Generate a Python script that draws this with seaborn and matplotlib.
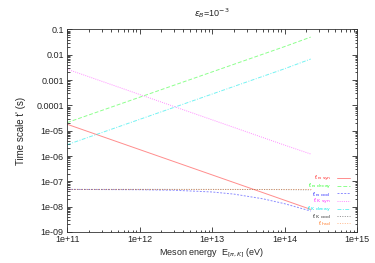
import numpy as np
import pandas as pd
import seaborn as sns
import matplotlib.pyplot as plt
from matplotlib.ticker import LogLocator, NullFormatter, FixedLocator, FixedFormatter

# meson energy grid (eV)
energy = [1e11, 1e12, 3e12, 1e13, 2e13, 5e13, 1e14, 2.3e14]

# time scales (s)
t_pi_syn = [1.8e-5, 1.8e-6, 6.0e-7, 1.8e-7, 9.0e-8, 3.6e-8, 1.8e-8, 7.8e-9]
t_pi_decay = [2.1e-5, 2.1e-4, 6.3e-4, 2.1e-3, 4.2e-3, 1.05e-2, 2.1e-2, 5.0e-2]
t_pi_cool = [4.8e-8, 4.67e-8, 4.45e-8, 3.8e-8, 3.13e-8, 2.05e-8, 1.31e-8, 6.7e-9]
t_K_syn = [2.7e-3, 2.7e-4, 9.0e-5, 2.7e-5, 1.35e-5, 5.4e-6, 2.7e-6, 1.2e-6]
t_K_decay = [2.8e-6, 2.8e-5, 8.4e-5, 2.8e-4, 5.6e-4, 1.4e-3, 2.8e-3, 6.8e-3]
t_K_cool = [4.8e-8, 4.8e-8, 4.8e-8, 4.79e-8, 4.78e-8, 4.76e-8, 4.72e-8, 4.62e-8]
t_had = [4.8e-8] * 8

labels = [r"t'$_{\pi,\rm syn}$", r"t'$_{\pi,\rm decay}$", r"t'$_{\pi,\rm cool}$",
          r"t'$_{\rm K,syn}$", r"t'$_{\rm K,decay}$", r"t'$_{\rm K,cool}$",
          r"t'$_{\rm had}$"]
colors = ["#ff3030", "#30ff30", "#3030ff", "#ff30ff", "#00e8e8", "#303030", "#ff8030"]
styles = ["-", (0, (4, 2)), (0, (2, 1.5)), (0, (1, 1.2)), (0, (4, 1.5, 1, 1.5)), (0, (1, 1.5)), (0, (1, 1.5))]

series = [t_pi_syn, t_pi_decay, t_pi_cool, t_K_syn, t_K_decay, t_K_cool, t_had]
df = pd.DataFrame({"E": energy * len(series),
                   "t": np.concatenate(series),
                   "name": np.repeat(labels, len(energy))})

sns.set_theme(style="ticks")
plt.rcParams['font.family'] = ['Liberation Sans', 'DejaVu Sans']
plt.rcParams['mathtext.fontset'] = 'dejavusans'

fig = plt.figure(figsize=(3.75, 2.63), dpi=100)
ax = fig.add_axes([0.179, 0.118, 0.773, 0.770])

for lab, col, ls in zip(labels, colors, styles):
    sns.lineplot(data=df[df.name == lab], x="E", y="t", ax=ax, color=col,
                 linestyle=ls, linewidth=0.7, alpha=0.55, label=lab)

ax.set_xscale("log")
ax.set_yscale("log")
ax.set_xlim(1e11, 1e15)
ax.set_ylim(1e-9, 0.1)

yt = [1e-9, 1e-8, 1e-7, 1e-6, 1e-5, 1e-4, 1e-3, 1e-2, 1e-1]
ytl = ["1e-09", "1e-08", "1e-07", "1e-06", "1e-05", "0.0001", "0.001", "0.01", "0.1"]
xt = [1e11, 1e12, 1e13, 1e14, 1e15]
xtl = ["1e+11", "1e+12", "1e+13", "1e+14", "1e+15"]
ax.yaxis.set_major_locator(FixedLocator(yt))
ax.yaxis.set_major_formatter(FixedFormatter(ytl))
ax.xaxis.set_major_locator(FixedLocator(xt))
ax.xaxis.set_major_formatter(FixedFormatter(xtl))
ax.xaxis.set_minor_locator(LogLocator(base=10, subs=np.arange(2, 10)))
ax.yaxis.set_minor_locator(LogLocator(base=10, subs=np.arange(2, 10)))
ax.xaxis.set_minor_formatter(NullFormatter())
ax.yaxis.set_minor_formatter(NullFormatter())

ax.tick_params(which="both", direction="in", top=True, right=True, labelsize=6.5,
               pad=2.5, width=0.5, color="black")
ax.tick_params(which="major", length=3.5)
ax.tick_params(which="minor", length=1.8)
for s in ax.spines.values():
    s.set_linewidth(0.6)
    s.set_color("#333333")

ax.set_title(r"$\epsilon_B$=10$^{-3}$", fontsize=6.5, pad=9)
ax.set_xlabel(r"Meson energy  E$_{[\pi,K]}$ (eV)", fontsize=6.5, labelpad=2)
ax.set_ylabel("Time scale t' (s)", fontsize=7, labelpad=7)

leg = ax.legend(loc="lower right", markerfirst=False, frameon=False, fontsize=4.6,
                handlelength=2.1, labelspacing=-0.3, borderaxespad=0.0,
                handletextpad=0.9, bbox_to_anchor=(0.985, 0.005))
for txt, col in zip(leg.get_texts(), colors):
    txt.set_color(col)
    txt.set_ha("right")

fig.savefig("out.png", dpi=100)
